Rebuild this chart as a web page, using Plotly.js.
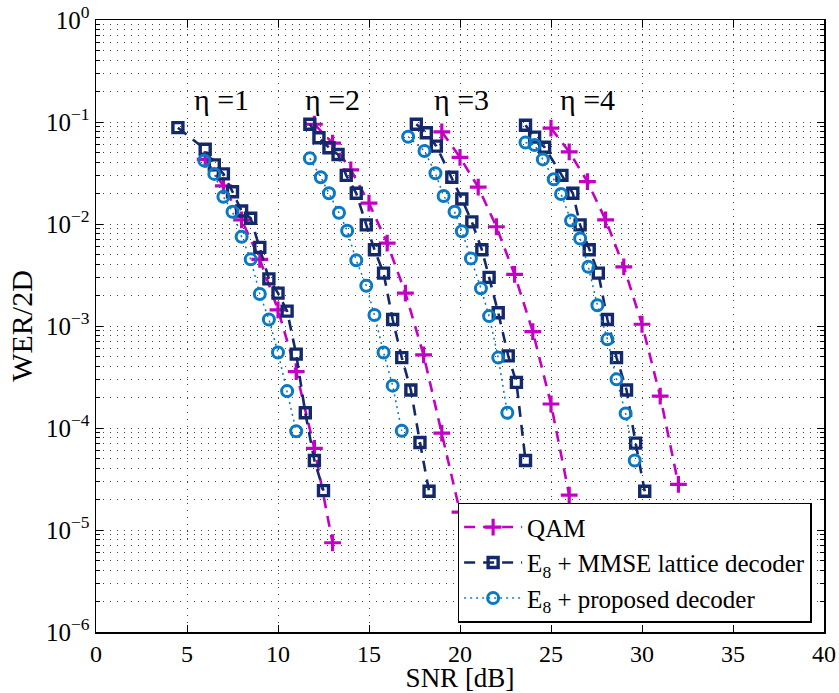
<!DOCTYPE html>
<html>
<head>
<meta charset="utf-8">
<script src="https://cdn.plot.ly/plotly-3.0.1.min.js"></script>
<style>html,body{margin:0;padding:0;background:#fff;}#plot{width:839px;height:693px;}</style>
</head>
<body>
<div id="plot"></div>
<script>
// ---- data ----
const etaLabels = ["η =1", "η =2", "η =3", "η =4"];
const etaLabelX = [6.9, 13.0, 20.1, 27.0];

const snrQam1 = [6, 7, 8, 9, 10, 11, 12, 13];
const werQam1 = [0.043, 0.0236, 0.011, 0.0045, 0.00144, 3.57e-4, 6.3e-5, 7.5e-6];
const snrMmse1 = [4.5, 6, 6.5, 7, 7.5, 8, 8.5, 9, 9.5, 10, 10.5, 11, 11.5, 12, 12.5];
const werMmse1 = [0.088, 0.054, 0.038, 0.031, 0.0207, 0.0134, 0.0114, 0.0059, 0.0029, 0.0021, 0.0014, 5.3e-4, 1.41e-4, 4.8e-5, 2.43e-5];
const snrProp1 = [5.95, 6.5, 7, 7.5, 8, 8.5, 9, 9.5, 10, 10.5, 11];
const werProp1 = [0.042, 0.031, 0.0185, 0.0132, 0.0075, 0.0045, 0.00206, 0.00116, 5.5e-4, 2.3e-4, 9.3e-5];

const snrQam2 = [12, 13, 14, 15, 16, 17, 18, 19, 20];
const werQam2 = [0.095, 0.062, 0.034, 0.016, 0.0065, 0.0021, 5.2e-4, 8.9e-5, 1.5e-5];
const snrMmse2 = [11.75, 12.25, 12.8, 13.3, 13.75, 14.3, 14.85, 15.3, 15.8, 16.3, 16.8, 17.3, 17.8, 18.3];
const werMmse2 = [0.095, 0.070, 0.056, 0.048, 0.030, 0.020, 0.0098, 0.0056, 0.0033, 0.00116, 4.9e-4, 2.36e-4, 7.2e-5, 2.4e-5];
const snrProp2 = [11.75, 12.35, 12.8, 13.35, 13.8, 14.3, 14.85, 15.3, 15.8, 16.3, 16.8];
const werProp2 = [0.044, 0.0287, 0.020, 0.0129, 0.0086, 0.0044, 0.00248, 0.00128, 5.5e-4, 2.6e-4, 9.4e-5];

const snrQam3 = [19, 20, 21, 22, 23, 24, 25, 26];
const werQam3 = [0.080, 0.045, 0.023, 0.0094, 0.0032, 8.8e-4, 1.72e-4, 2.2e-5];
const snrMmse3 = [17.6, 18.15, 18.7, 19.55, 20.1, 20.65, 21.2, 21.6, 22.1, 22.65, 23.1, 23.6];
const werMmse3 = [0.095, 0.0785, 0.058, 0.0287, 0.0176, 0.0105, 0.0056, 0.003, 0.00135, 5.1e-4, 2.8e-4, 4.8e-5];
const snrProp3 = [17.15, 18.05, 18.65, 19.1, 19.7, 20.1, 20.6, 21.15, 21.6, 22.1, 22.6];
const werProp3 = [0.0718, 0.052, 0.0314, 0.0188, 0.0132, 0.0085, 0.0046, 0.00234, 0.00125, 4.9e-4, 1.41e-4];

const snrQam4 = [25, 26, 27, 28, 29, 30, 31, 32];
const werQam4 = [0.087, 0.051, 0.026, 0.011, 0.0038, 0.00104, 2.05e-4, 2.8e-5];
const snrMmse4 = [23.6, 24.1, 24.65, 25.6, 26.2, 26.6, 27.1, 27.6, 28.1, 28.6, 29.15, 29.65, 30.15];
const werMmse4 = [0.093, 0.071, 0.0565, 0.030, 0.020, 0.0098, 0.0056, 0.0033, 0.00116, 4.9e-4, 2.36e-4, 7.1e-5, 2.4e-5];
const snrProp4 = [23.6, 24.1, 24.55, 25.15, 25.55, 26.1, 26.6, 27.05, 27.55, 28.1, 28.6, 29.1, 29.6];
const werProp4 = [0.063, 0.0595, 0.043, 0.0275, 0.0197, 0.0108, 0.0072, 0.0038, 0.0016, 7.4e-4, 3.0e-4, 1.39e-4, 4.8e-5];

const seriesNames = ["QAM", "E<sub>8</sub> + MMSE lattice decoder", "E<sub>8</sub> + proposed decoder"];
const yTickVals = [1e-6, 1e-5, 1e-4, 1e-3, 1e-2, 1e-1, 1];
const yTickText = ["10<sup>−6</sup>", "10<sup>−5</sup>", "10<sup>−4</sup>", "10<sup>−3</sup>", "10<sup>−2</sup>", "10<sup>−1</sup>", "10<sup>0</sup>"];

// ---- styles ----
const cQam = "#C400C4", cMmse = "#13296B", cProp = "#0A78C2";
const styles = [
  {line: {color: cQam, width: 2.6, dash: "11px,8px"},
   marker: {symbol: "cross-thin-open", size: 12, color: cQam, line: {color: cQam, width: 3.2}}},
  {line: {color: cMmse, width: 2.6, dash: "11px,8px"},
   marker: {symbol: "square-open", size: 10, color: cMmse, line: {color: cMmse, width: 3.4}}},
  {line: {color: cProp, width: 1.5, dash: "2px,4px"},
   marker: {symbol: "circle-open", size: 11, color: cProp, line: {color: cProp, width: 3}}}
];
const groups = [
  [[snrQam1, werQam1], [snrMmse1, werMmse1], [snrProp1, werProp1]],
  [[snrQam2, werQam2], [snrMmse2, werMmse2], [snrProp2, werProp2]],
  [[snrQam3, werQam3], [snrMmse3, werMmse3], [snrProp3, werProp3]],
  [[snrQam4, werQam4], [snrMmse4, werMmse4], [snrProp4, werProp4]]
];
const traces = [];
groups.forEach((g, gi) => {
  g.forEach((s, si) => {
    traces.push({
      x: s[0], y: s[1], type: "scatter", mode: "lines+markers",
      name: seriesNames[si], legendgroup: "s" + si, showlegend: gi === 0,
      line: styles[si].line, marker: styles[si].marker
    });
  });
});

const font = "'Liberation Serif', 'Times New Roman', 'DejaVu Serif', serif";
const annotations = etaLabels.map((t, i) => ({
  x: etaLabelX[i], y: Math.log10(0.165), xref: "x", yref: "y", text: t,
  showarrow: false, font: {family: font, size: 30, color: "#000"}
}));

const gridStyle = {gridcolor: "#444", griddash: "1px,6px", gridwidth: 1};

const layout = {
  width: 839, height: 693,
  margin: {l: 96, r: 15, t: 20, b: 61},
  paper_bgcolor: "#fff", plot_bgcolor: "#fff",
  font: {family: font, color: "#000", size: 25},
  showlegend: true,
  legend: {
    x: 0.983, y: 0.015, xanchor: "right", yanchor: "bottom",
    bgcolor: "#fff", bordercolor: "#000", borderwidth: 1.5,
    font: {family: font, size: 25, color: "#000"},
    itemwidth: 58, tracegroupgap: 0
  },
  xaxis: Object.assign({
    range: [0, 40], dtick: 5, tick0: 0,
    showline: true, linecolor: "#000", linewidth: 1.5, mirror: "ticks",
    ticks: "inside", ticklen: 7, tickcolor: "#000",
    showgrid: true,
    zeroline: false,
    tickfont: {family: font, size: 24},
    title: {text: "SNR [dB]", font: {family: font, size: 27}, standoff: 7}
  }, gridStyle),
  yaxis: Object.assign({
    type: "log", range: [-6, 0],
    tickmode: "array", tickvals: yTickVals, ticktext: yTickText,
    showline: true, linecolor: "#000", linewidth: 1.5, mirror: "ticks",
    ticks: "inside", ticklen: 7, tickcolor: "#000",
    showgrid: true,
    zeroline: false,
    minor: Object.assign({dtick: "D1", showgrid: true,
            ticks: "inside", ticklen: 4, tickcolor: "#000"}, gridStyle),
    tickfont: {family: font, size: 25},
    title: {text: "WER/2D", font: {family: font, size: 30}, standoff: 4}
  }, gridStyle),
  annotations: annotations
};

Plotly.newPlot("plot", traces, layout, {displayModeBar: false, staticPlot: true});
</script>
</body>
</html>
